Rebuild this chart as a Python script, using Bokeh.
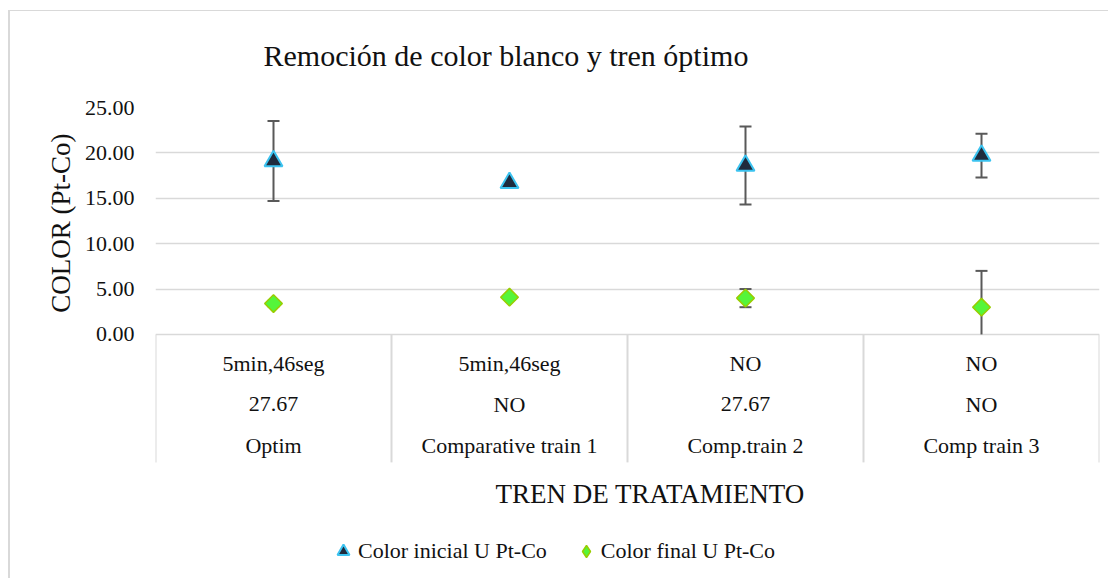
import numpy as np
from bokeh.plotting import figure
from bokeh.models import (ColumnDataSource, FactorRange, Range1d, FixedTicker, NumeralTickFormatter,
                          Whisker, TeeHead, Legend, LegendItem, Title, Label)
from bokeh.core.properties import value
from bokeh.embed import file_html
from bokeh.resources import INLINE

# ---- data -------------------------------------------------------------
trains = ["Optim", "Comparative train 1", "Comp.train 2", "Comp train 3"]
level2 = ["27.67", "NO", "27.67", "NO"]
level1 = ["5min,46seg", "5min,46seg", "NO", "NO"]
color_inicial = [19.1, 16.7, 18.6, 19.7]
err_inicial = [4.4, 0.0, 4.3, 2.4]
color_final = [3.4, 4.1, 4.0, 3.0]
err_final = [0.3, 0.0, 1.0, 4.0]
y_ticks = [0, 5, 10, 15, 20, 25]

FONT = "Liberation Serif"
TXT = "#111111"
GRID = "#d9d9d9"
Y_BOTTOM = -27.0   # frame extends down to hold category labels, axis title and legend
Y_SEP = -14.1      # depth of category separator lines

p = figure(width=1100, height=568,
           x_range=FactorRange(factors=trains, range_padding=0),
           y_range=Range1d(Y_BOTTOM, 25),
           x_axis_type=None, output_backend="svg", toolbar_location=None,
           min_border_left=145, min_border_right=11, min_border_top=96, min_border_bottom=0,
           styles={"border-left": "2px solid #d9d9d9", "border-top": "1px solid #d9d9d9",
                   "margin-left": "8px", "margin-top": "10px"})
p.outline_line_color = None
p.background_fill_color = "white"
p.border_fill_color = "white"

# title
t = Title(text="Remoción de color blanco y tren óptimo", align="left", offset=108,
          text_font=FONT, text_font_size="30px", text_font_style="normal", text_color=TXT,
          standoff=48, padding=(0, 0, 0, 12))
p.add_layout(t, "above")

# y axis
p.yaxis.ticker = FixedTicker(ticks=y_ticks)
p.yaxis.formatter = NumeralTickFormatter(format="0.00")
p.yaxis.axis_line_color = None
p.yaxis.major_tick_line_color = None
p.yaxis.minor_tick_line_color = None
p.yaxis.major_tick_out = 0
p.yaxis.major_label_standoff = 21
p.yaxis.major_label_text_font = FONT
p.yaxis.major_label_text_font_size = "22px"
p.yaxis.major_label_text_color = TXT

p.ygrid.ticker = FixedTicker(ticks=y_ticks)
p.ygrid.grid_line_color = GRID
p.ygrid.grid_line_width = 1.5

# y axis title, placed alongside the 0-25 value band
yt = Title(text="COLOR (Pt-Co)", align="right", offset=26,
           text_font=FONT, text_font_size="27px", text_font_style="normal", text_color=TXT, standoff=11)
p.add_layout(yt, "left")

# category separators
bx = [(c, -0.5) for c in trains] + [(trains[-1], 0.5)]
p.segment(x0=bx, x1=bx, y0=0, y1=Y_SEP, line_color=GRID, line_width=2)

# multi-level category labels
for row, off in ((level1, 29), (level2, 70), (trains, 111)):
    p.text(x=trains, y=0, text=row, y_offset=off, text_align="center", text_baseline="middle",
           text_font=value(FONT), text_font_size="22px", text_color=TXT)

# error bars
def add_whiskers(vals, errs):
    normal = dict(x=[], up=[], lo=[])
    clipped = dict(x=[], up=[], lo=[])
    for c, v, e in zip(trains, vals, errs):
        if e <= 0:
            continue
        d = clipped if v - e < 0 else normal
        d["x"].append(c)
        d["up"].append(v + e)
        d["lo"].append(max(v - e, 0))
    for d, low_head in ((normal, True), (clipped, False)):
        if not d["x"]:
            continue
        w = Whisker(source=ColumnDataSource(d), base="x", upper="up", lower="lo",
                    line_color="#595959", line_width=2, level="underlay",
                    upper_head=TeeHead(size=12, line_color="#595959", line_width=2),
                    lower_head=TeeHead(size=12, line_color="#595959", line_width=2) if low_head else None)
        p.add_layout(w)

add_whiskers(color_inicial, err_inicial)
add_whiskers(color_final, err_final)

TRI = dict(fill_color="#1f2b3d", line_color="#3cc3f0", line_width=2)
DIA = dict(fill_color="#55f53a", line_color="#99cc00", line_width=1.5)

src = ColumnDataSource(dict(x=trains, ci=color_inicial, cf=color_final))
r1 = p.scatter("x", "ci", source=src, marker="triangle", size=18, **TRI)
r2 = p.scatter("x", "cf", source=src, marker="square", angle=np.pi / 4, size=12.5, **DIA)
# legend-only proxy (a rotated square is not rotated inside legends)
r2_leg = p.scatter("x", "cf", source=src, marker="diamond", size=10, visible=False, **DIA)

# x axis title
p.add_layout(Label(x=340, y=86, x_units="screen", y_units="screen", text="TREN DE TRATAMIENTO",
                   text_align="left", text_baseline="middle",
                   text_font=FONT, text_font_size="27px", text_color=TXT))

legend = Legend(items=[LegendItem(label="Color inicial U Pt-Co", renderers=[r1]),
                       LegendItem(label="Color final U Pt-Co", renderers=[r2_leg])],
                location=(173, 11), orientation="horizontal",
                label_text_font=FONT, label_text_font_size="22px", label_text_color=TXT,
                border_line_color=None, background_fill_alpha=0, inactive_fill_alpha=0,
                glyph_width=30, glyph_height=34, label_standoff=0, spacing=24,
                padding=0, margin=0, click_policy="none")
p.add_layout(legend)

open("out.html", "w").write(file_html(p, INLINE))
